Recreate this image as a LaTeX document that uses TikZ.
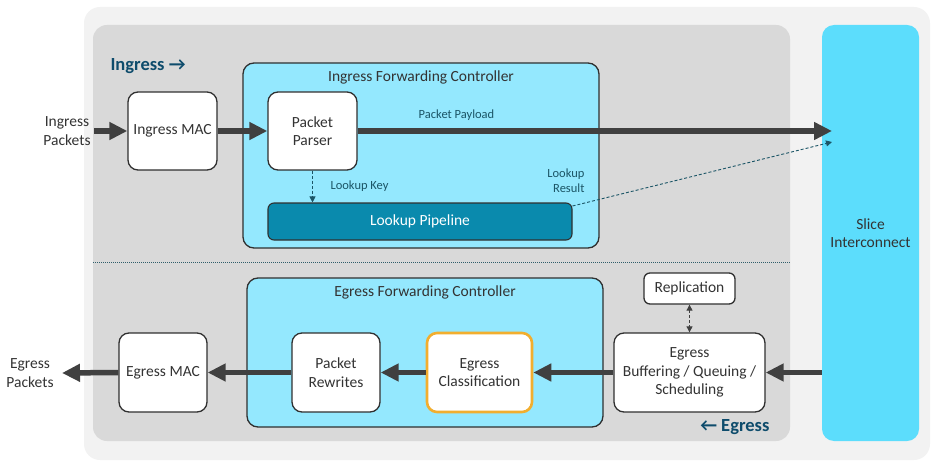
\documentclass[tikz,border=0pt]{standalone}
\usepackage{fontspec}
\setmainfont{Carlito}
\usetikzlibrary{arrows.meta,positioning,calc}
\definecolor{outerbg}{HTML}{F2F2F2}
\definecolor{innerbg}{HTML}{D9D9D9}
\definecolor{ctrlfill}{HTML}{94E8FE}
\definecolor{slicefill}{HTML}{5CDDFC}
\definecolor{pipefill}{HTML}{0A8AAD}
\definecolor{darktxt}{HTML}{0E4C6C}
\definecolor{dashcol}{HTML}{1B5566}
\definecolor{arrowcol}{HTML}{404040}
\definecolor{borderc}{HTML}{303030}
\definecolor{orangec}{HTML}{F2AE2E}
\definecolor{labeltxt}{HTML}{333333}
\begin{document}
\begin{tikzpicture}[x=1pt,y=-1pt,
  font=\fontsize{15.5}{18.5}\selectfont,
  blk/.style={draw=borderc,line width=1.3pt,fill=white,rounded corners=10pt,align=center,inner sep=2pt,text=labeltxt},
  ctrl/.style={draw=borderc,line width=1.3pt,fill=ctrlfill,rounded corners=11pt},
  bigarrow/.style={draw=arrowcol,line width=5.5pt,-{Triangle[length=18pt,width=17pt]},shorten >=0pt},
  dasharrow/.style={draw=dashcol,line width=0.9pt,dashed,dash pattern=on 3pt off 2pt,-{Triangle[length=6pt,width=6pt]}},
  small/.style={font=\fontsize{12.5}{15}\selectfont,text=dashcol},
  title/.style={font=\fontsize{15.5}{18.5}\selectfont,text=labeltxt},
  side/.style={font=\bfseries\fontsize{18.5}{22}\selectfont,text=darktxt}
]
\useasboundingbox (0,0) rectangle (936,465);
% backgrounds
\fill[outerbg,rounded corners=16pt] (84,7) rectangle (930,460);
\fill[innerbg,rounded corners=14pt] (93,25) rectangle (790,441);
\node[fill=slicefill,rounded corners=12pt,minimum width=97pt,minimum height=416pt,align=center,inner sep=0pt,title] (slice) at (870.5,233) {Slice\\Interconnect};
% separator
\draw[dashcol!80!gray,line width=0.9pt,dash pattern=on 1pt off 1pt] (93,262) -- (790,262);
% controllers
\node[ctrl,minimum width=356pt,minimum height=185pt,inner sep=0pt] (ifc) at (421,155.5) {};
\node[title] (ifct) at (421,77) {Ingress Forwarding Controller};
\node[ctrl,minimum width=356pt,minimum height=149pt,inner sep=0pt] (efc) at (425,352.5) {};
\node[title] (efct) at (425,292) {Egress Forwarding Controller};
% side labels
\node[side,anchor=west] (inglab) at (107,66.5) {Ingress →};
\node[side,anchor=east] (eglab) at (773,427) {← Egress};
% ingress blocks
\node[blk,minimum width=89pt,minimum height=78pt] (imac) at (172.5,131) {Ingress MAC};
\node[blk,minimum width=89pt,minimum height=78pt] (parser) at (312.5,131) {Packet\\Parser};
\node[draw=borderc,line width=1.1pt,fill=pipefill,rounded corners=6pt,minimum width=304pt,minimum height=37pt,text=white,inner sep=0pt] (pipe) at (420,221.5) {Lookup Pipeline};
\node[title,align=center] (ipk) at (67,131) {Ingress\\Packets};
\coordinate (payend) at (832,131);
\coordinate (resend) at (832,142);
\draw[bigarrow] (ipk.east) -- (imac.west);
\draw[bigarrow] (imac.east) -- (parser.west);
\draw[bigarrow] (parser.east) -- (payend);
\node[small] (paylab) at (456.5,115) {Packet Payload};
\draw[dasharrow] (parser.south) -- (parser.south |- pipe.north);
\node[small,anchor=west] (keylab) at (327,186) {Lookup Key};
\draw[dasharrow] ([yshift=15.5pt]pipe.east) -- (resend);
\node[small,anchor=east,align=right] (reslab) at (588,180.5) {Lookup\\Result};
% egress blocks
\node[blk,minimum width=88pt,minimum height=79pt] (emac) at (163,372.5) {Egress MAC};
\node[blk,minimum width=88pt,minimum height=79pt] (rew) at (336,372.5) {Packet\\Rewrites};
\node[blk,draw=orangec,line width=2.6pt,minimum width=105pt,minimum height=79pt] (ecls) at (479.5,372.5) {Egress\\Classification};
\node[blk,minimum width=151pt,minimum height=79pt] (buf) at (689.5,372.5) {Egress\\Buffering / Queuing /\\Scheduling};
\node[blk,rounded corners=6pt,minimum width=91pt,minimum height=31pt] (repl) at (689.5,288.5) {Replication};
\node[title,align=center] (epk) at (30,373) {Egress\\Packets};
\coordinate (egend) at (62,373);
\draw[bigarrow] (slice.west |- buf.east) -- (buf.east);
\draw[bigarrow] (buf.west) -- (ecls.west -| ecls.east);
\draw[bigarrow] (ecls.west) -- (rew.east);
\draw[bigarrow] (rew.west) -- (emac.east);
\draw[bigarrow] (emac.west) -- (egend);
\draw[dasharrow,{Triangle[length=6pt,width=6pt]}-{Triangle[length=6pt,width=6pt]},draw=arrowcol] (repl.south) -- (buf.north);
\end{tikzpicture}
\end{document}
